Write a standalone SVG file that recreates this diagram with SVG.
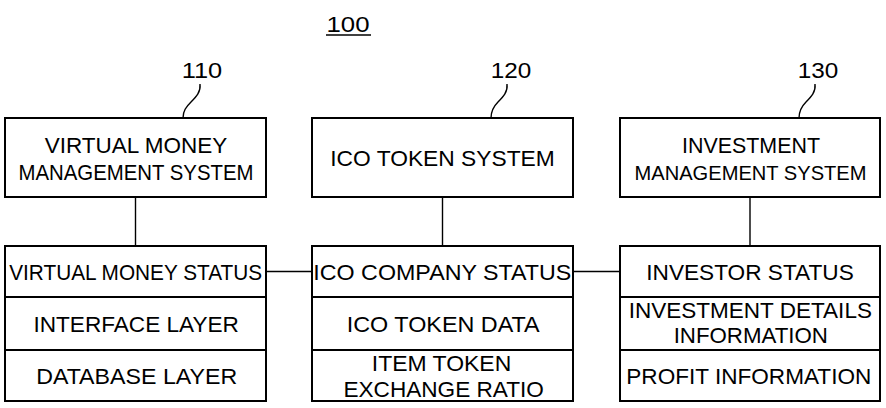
<svg xmlns="http://www.w3.org/2000/svg" width="886" height="408" viewBox="0 0 886 408">
<style>
.box{fill:#fff;stroke:#000;stroke-width:2}
.ln{fill:none;stroke:#000;stroke-width:1.4}
text{font-family:"Liberation Sans",Arial,sans-serif;font-size:22.5px;fill:#000;text-anchor:middle}
</style>
<rect width="886" height="408" fill="#fff"/>
<g id="connectors">
<line class="ln" x1="135.5" y1="197" x2="135.5" y2="246"/>
<line class="ln" x1="442.5" y1="197" x2="442.5" y2="246"/>
<line class="ln" x1="750" y1="197" x2="750" y2="246"/>
<line class="ln" x1="266" y1="271.5" x2="312" y2="271.5"/>
<line class="ln" x1="573" y1="271.5" x2="620" y2="271.5"/>
<path class="ln" d="M200,84 C201,92 196,97 191,102 C186,107 183,111 183,118"/>
<path class="ln" d="M507,84 C508,92 503,97 498,102 C493,107 491,111 491,118"/>
<path class="ln" d="M815,84 C816,92 811,97 806,102 C801,107 799,111 799,118"/>
</g>
<g id="label100">
<text x="348" y="31.5" textLength="43" lengthAdjust="spacingAndGlyphs">100</text>
<line x1="326" y1="35" x2="371" y2="35" stroke="#000" stroke-width="1.5"/>
</g>
<g id="label110"><text x="202" y="77.5" textLength="40.5" lengthAdjust="spacingAndGlyphs">110</text></g>
<g id="label120"><text x="511" y="77.5" textLength="40.5" lengthAdjust="spacingAndGlyphs">120</text></g>
<g id="label130"><text x="818" y="77.5" textLength="40.5" lengthAdjust="spacingAndGlyphs">130</text></g>
<g id="node110">
<rect class="box" x="5" y="118" width="261" height="79"/>
<text x="136" y="153.3" textLength="182.5" lengthAdjust="spacingAndGlyphs">VIRTUAL MONEY</text>
<text x="136" y="180" textLength="235" lengthAdjust="spacingAndGlyphs">MANAGEMENT SYSTEM</text>
</g>
<g id="node120">
<rect class="box" x="312" y="118" width="261" height="79"/>
<text x="442.5" y="165.5" textLength="224.5" lengthAdjust="spacingAndGlyphs">ICO TOKEN SYSTEM</text>
</g>
<g id="node130">
<rect class="box" x="620" y="118" width="260" height="79"/>
<text x="751" y="153.3" textLength="138" lengthAdjust="spacingAndGlyphs">INVESTMENT</text>
<text x="750.5" y="180" style="font-size:21px" textLength="232" lengthAdjust="spacingAndGlyphs">MANAGEMENT SYSTEM</text>
</g>
<g id="node111">
<rect class="box" x="5" y="246" width="261" height="51"/>
<rect class="box" x="5" y="297" width="261" height="53"/>
<rect class="box" x="5" y="350" width="261" height="51"/>
<text x="135.7" y="279.7" textLength="253" lengthAdjust="spacingAndGlyphs">VIRTUAL MONEY STATUS</text>
<text x="136.2" y="332.3" textLength="205.5" lengthAdjust="spacingAndGlyphs">INTERFACE LAYER</text>
<text x="136.7" y="384" textLength="201" lengthAdjust="spacingAndGlyphs">DATABASE LAYER</text>
</g>
<g id="node121">
<rect class="box" x="312" y="246" width="261" height="51"/>
<rect class="box" x="312" y="297" width="261" height="53"/>
<rect class="box" x="312" y="350" width="261" height="51"/>
<text x="442.3" y="279.7" textLength="258" lengthAdjust="spacingAndGlyphs">ICO COMPANY STATUS</text>
<text x="443.2" y="332.3" textLength="193" lengthAdjust="spacingAndGlyphs">ICO TOKEN DATA</text>
<text x="441.5" y="370.5" textLength="139.5" lengthAdjust="spacingAndGlyphs">ITEM TOKEN</text>
<text x="443.7" y="397.3" textLength="200.5" lengthAdjust="spacingAndGlyphs">EXCHANGE RATIO</text>
</g>
<g id="node131">
<rect class="box" x="620" y="246" width="260" height="51"/>
<rect class="box" x="620" y="297" width="260" height="53"/>
<rect class="box" x="620" y="350" width="260" height="51"/>
<text x="750" y="279.7" textLength="207.5" lengthAdjust="spacingAndGlyphs">INVESTOR STATUS</text>
<text x="750.3" y="318.3" textLength="243.3" lengthAdjust="spacingAndGlyphs">INVESTMENT DETAILS</text>
<text x="750.8" y="343.3" textLength="154.3" lengthAdjust="spacingAndGlyphs">INFORMATION</text>
<text x="748.8" y="384" textLength="245" lengthAdjust="spacingAndGlyphs">PROFIT INFORMATION</text>
</g>
</svg>
